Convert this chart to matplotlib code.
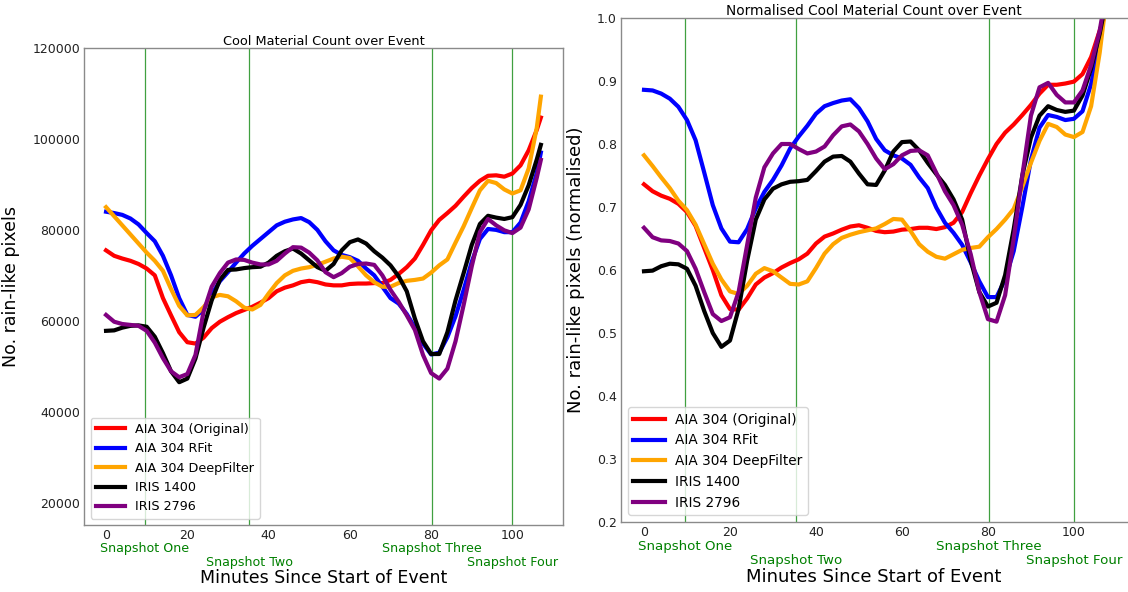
import matplotlib
matplotlib.use('Agg')
import matplotlib.pyplot as plt

# ---------------- data ----------------
minutes = list(range(0, 107, 2)) + [107]

series_names = ["AIA 304 (Original)", "AIA 304 RFit", "AIA 304 DeepFilter", "IRIS 1400", "IRIS 2796"]
series_colors = ["red", "blue", "orange", "black", "purple"]

snapshot_times = [9.6, 35.3, 80.3, 100.0]
snapshot_labels = ["Snapshot One", "Snapshot Two", "Snapshot Three", "Snapshot Four"]

# Raw counts (left panel)
count_aia_orig = [75500, 74300, 73700, 73200, 72500, 71500, 70000, 65000, 61200, 57500,
                  55300, 55000, 56300, 58400, 59800, 60800, 61700, 62400, 63100, 64000,
                  65000, 66500, 67300, 67800, 68500, 68800, 68500, 68000, 67800, 67800,
                  68100, 68200, 68200, 68300, 68300, 69000, 70300, 71800, 73700, 76700,
                  79900, 82200, 83700, 85300, 87300, 89200, 90800, 91900, 92000, 91700,
                  92400, 94200, 97500, 102000, 104700]
count_aia_rfit = [84000, 83700, 83300, 82500, 81200, 79300, 77500, 74300, 70000, 65000,
                  61300, 60900, 62500, 65800, 68700, 70700, 72800, 74800, 76500, 78000,
                  79500, 81000, 81800, 82300, 82600, 81700, 80000, 77500, 75500, 74500,
                  74000, 73200, 71500, 70000, 67500, 65000, 63800, 61500, 58500, 55000,
                  52600, 53000, 56400, 61000, 66800, 73000, 78000, 80200, 80000, 79500,
                  79500, 81600, 86300, 92500, 97000]
count_aia_deep = [85000, 83000, 81000, 79000, 77000, 75000, 73200, 71000, 67000, 63300,
                  61200, 61300, 63000, 65200, 65700, 65400, 64300, 62900, 62500, 63500,
                  66000, 68300, 70000, 71000, 71500, 71800, 72300, 73000, 73700, 74100,
                  73800, 72000, 70000, 68500, 67500, 67500, 68300, 68800, 69000, 69300,
                  70600, 72200, 73500, 77200, 80800, 84800, 88700, 90800, 90300, 88900,
                  88000, 88700, 93500, 102500, 109300]
count_iris_1400 = [57800, 57900, 58500, 58900, 59000, 58700, 56500, 52900, 48900, 46500,
                   47300, 51700, 58500, 64500, 69000, 71200, 71300, 71600, 71800, 71900,
                   72800, 74300, 75300, 75900, 74800, 73300, 71800, 71000, 72500, 75500,
                   77300, 77900, 77000, 75300, 73900, 72200, 69800, 66500, 60500, 55500,
                   52700, 52700, 57500, 64500, 70500, 76700, 81300, 83100, 82700, 82400,
                   82800, 85500, 89800, 95500, 98700]
count_iris_2796 = [61300, 59800, 59300, 59100, 58900, 57800, 55200, 51800, 48900, 47600,
                   48300, 52500, 62000, 67500, 70500, 72800, 73500, 73400, 72800, 72400,
                   72400, 73200, 74800, 76200, 76100, 75000, 73300, 70700, 69600, 70500,
                   71900, 72500, 72600, 72300, 70000, 66800, 64200, 61200, 58000, 52500,
                   48500, 47300, 49500, 55500, 63500, 72000, 79500, 82400, 81000, 79900,
                   79300, 80500, 84500, 91500, 95400]

# Normalised counts (right panel)
norm_aia_orig = [0.736, 0.725, 0.718, 0.713, 0.705, 0.692, 0.670, 0.635, 0.600, 0.560,
                 0.538, 0.537, 0.555, 0.577, 0.588, 0.595, 0.604, 0.611, 0.617, 0.626,
                 0.642, 0.653, 0.658, 0.664, 0.669, 0.671, 0.667, 0.662, 0.660, 0.661,
                 0.664, 0.665, 0.667, 0.667, 0.665, 0.668, 0.675, 0.692, 0.722, 0.750,
                 0.776, 0.800, 0.818, 0.831, 0.846, 0.862, 0.880, 0.894, 0.894, 0.896,
                 0.899, 0.911, 0.938, 0.980, 1.000]
norm_aia_rfit = [0.886, 0.885, 0.880, 0.872, 0.859, 0.838, 0.806, 0.755, 0.703, 0.666,
                 0.645, 0.644, 0.665, 0.698, 0.724, 0.743, 0.766, 0.793, 0.812, 0.829,
                 0.848, 0.860, 0.865, 0.869, 0.871, 0.857, 0.836, 0.808, 0.790, 0.782,
                 0.777, 0.767, 0.747, 0.730, 0.699, 0.675, 0.659, 0.640, 0.612, 0.582,
                 0.557, 0.557, 0.585, 0.630, 0.700, 0.775, 0.826, 0.846, 0.843, 0.838,
                 0.840, 0.852, 0.895, 0.960, 1.010]
norm_aia_deep = [0.782, 0.765, 0.747, 0.730, 0.710, 0.695, 0.672, 0.641, 0.610, 0.585,
                 0.566, 0.562, 0.575, 0.594, 0.603, 0.598, 0.588, 0.578, 0.577, 0.582,
                 0.603, 0.626, 0.641, 0.651, 0.656, 0.660, 0.663, 0.666, 0.673, 0.681,
                 0.680, 0.662, 0.641, 0.629, 0.621, 0.618, 0.625, 0.632, 0.635, 0.637,
                 0.652, 0.665, 0.680, 0.697, 0.732, 0.770, 0.805, 0.832, 0.827, 0.815,
                 0.811, 0.819, 0.860, 0.945, 1.000]
norm_iris_1400 = [0.598, 0.599, 0.606, 0.610, 0.609, 0.602, 0.575, 0.535, 0.500, 0.478,
                  0.488, 0.538, 0.615, 0.680, 0.712, 0.729, 0.736, 0.740, 0.741, 0.743,
                  0.757, 0.772, 0.780, 0.781, 0.772, 0.753, 0.736, 0.735, 0.758, 0.788,
                  0.803, 0.804, 0.790, 0.770, 0.752, 0.735, 0.712, 0.680, 0.615, 0.565,
                  0.542, 0.548, 0.592, 0.665, 0.750, 0.810, 0.845, 0.860, 0.854, 0.851,
                  0.853, 0.877, 0.920, 0.975, 1.010]
norm_iris_2796 = [0.667, 0.652, 0.647, 0.646, 0.642, 0.630, 0.602, 0.565, 0.530, 0.519,
                  0.525, 0.565, 0.640, 0.715, 0.763, 0.785, 0.800, 0.800, 0.792, 0.785,
                  0.788, 0.796, 0.814, 0.828, 0.831, 0.820, 0.800, 0.777, 0.760, 0.768,
                  0.782, 0.789, 0.790, 0.782, 0.754, 0.725, 0.703, 0.672, 0.625, 0.565,
                  0.522, 0.518, 0.560, 0.650, 0.750, 0.845, 0.890, 0.897, 0.878, 0.866,
                  0.866, 0.885, 0.925, 0.980, 1.020]

left_series = [count_aia_orig, count_aia_rfit, count_aia_deep, count_iris_1400, count_iris_2796]
right_series = [norm_aia_orig, norm_aia_rfit, norm_aia_deep, norm_iris_1400, norm_iris_2796]

left_yticks = [20000, 40000, 60000, 80000, 100000, 120000]
right_yticks = [0.2, 0.3, 0.4, 0.5, 0.6, 0.7, 0.8, 0.9, 1.0]
xticks = [0, 20, 40, 60, 80, 100]

# ---------------- figure ----------------
W, H = 1128, 592
fig = plt.figure(figsize=(W / 100, H / 100), dpi=100)
ax1 = fig.add_axes([84.3 / W, (H - 525) / H, 478.3 / W, 477 / H])
ax2 = fig.add_axes([621 / W, (H - 522) / H, 506 / W, 504 / H])


def style(ax, series, yticks, ylim, title, ylabel, fs):
    for vals, name, col in zip(series, series_names, series_colors):
        ax.plot(minutes, vals, color=col, lw=3, label=name)
    for t in snapshot_times:
        ax.axvline(t, color='green', lw=0.9, alpha=0.75, zorder=0.5)
    ax.set_ylim(*ylim)
    ax.set_yticks(yticks)
    ax.set_xticks(xticks)
    for s in ax.spines.values():
        s.set_color('#8a8a8a')
        s.set_linewidth(1.0)
    ax.tick_params(length=0, labelsize=9, pad=3, colors='#222222')
    ax.set_title(title, fontsize=fs['title'], pad=1.5)
    ax.set_ylabel(ylabel, fontsize=fs['label'])
    ax.set_xlabel("Minutes Since Start of Event", fontsize=fs['label'])
    ax.xaxis.label.set_va('center')
    ax.legend(loc='lower left', fontsize=fs['legend'], handlelength=2.3,
              borderaxespad=0.5)
    for i, (t, lab) in enumerate(zip(snapshot_times, snapshot_labels)):
        off = fs['snap_off'][i % 2]
        ax.annotate(lab, xy=(t, 0), xycoords=('data', 'axes fraction'),
                    xytext=(0, -off), textcoords='offset points',
                    ha='center', va='center', color='green', fontsize=fs['snap'],
                    annotation_clip=False)


style(ax1, left_series, left_yticks, (15100, 120000),
      "Cool Material Count over Event", "No. rain-like pixels",
      dict(title=9.3, label=12.5, legend=9.2, snap=9.1, snap_off=(16.6, 27.1)))
ax1.xaxis.set_label_coords(0.5, -(578 - 525) / 477)
ax1.yaxis.set_label_coords(-64 / 478.3, 0.5)

style(ax2, right_series, right_yticks, (0.2, 1.0),
      "Normalised Cool Material Count over Event", "No. rain-like pixels (normalised)",
      dict(title=9.8, label=13, legend=9.8, snap=9.6, snap_off=(17.3, 27.9)))
ax2.spines['right'].set_visible(False)
ax2.xaxis.set_label_coords(0.5, -(576.7 - 522) / 504)
ax2.yaxis.set_label_coords(-36 / 506, 0.5)
ax2.yaxis.set_major_formatter(matplotlib.ticker.FormatStrFormatter('%.1f'))

fig.savefig("out.png", dpi=100)
